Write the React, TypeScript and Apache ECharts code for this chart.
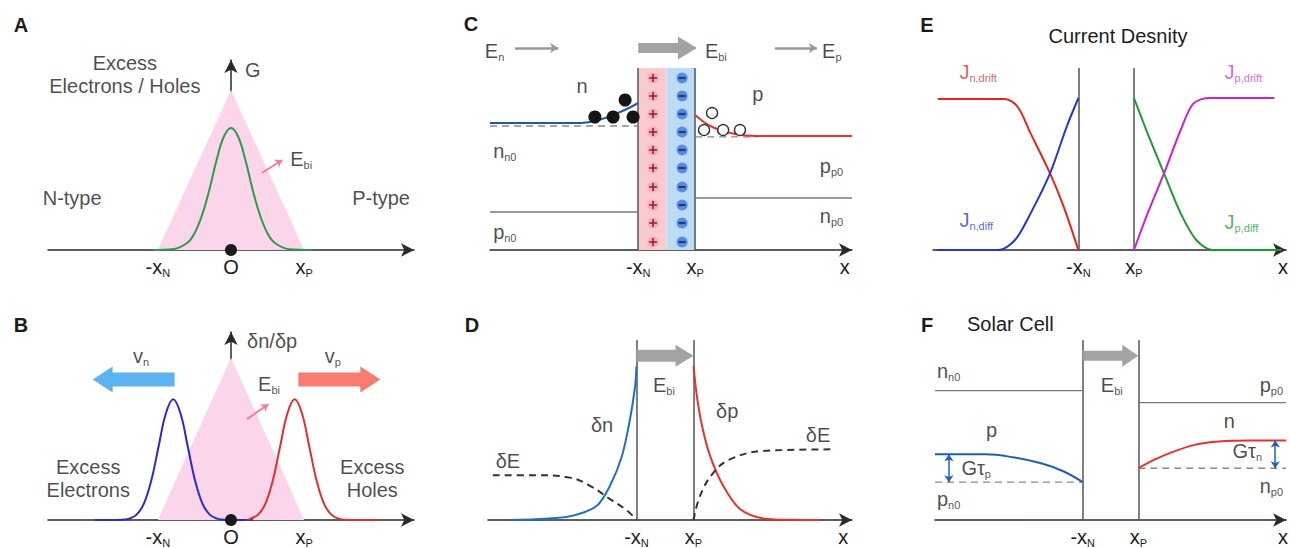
import React, { useEffect, useRef } from 'react';
import * as echarts from 'echarts';

const FONT = '"Liberation Sans", Arial, Helvetica, sans-serif';
const INK = '#1c1c1c';

// ---------------- Panel A : generation ----------------
const aTicks = [-1, 0, 1];
const aTickLabels = ['-x_{N}', 'O', 'x_{P}'];
const aTriangle = [[-1, 0], [0, 1.6], [1, 0]];
const aGeneration = [
  [-1.07, 0], [-0.8, 0.008], [-0.6, 0.07], [-0.5, 0.165], [-0.4, 0.34], [-0.3, 0.59], [-0.2, 0.89],
  [-0.1, 1.13], [0, 1.22], [0.1, 1.13], [0.2, 0.89], [0.3, 0.59], [0.4, 0.34], [0.5, 0.165],
  [0.6, 0.07], [0.8, 0.008], [1.1, 0],
];
const aOrigin = [[0, 0]];
const aFieldArrow = [[[0.42, 0.77], [0.7, 0.9]]];
const aLabels: any[] = [
  [-1.45, 1.76, 'Excess\nElectrons / Holes', 'center'],
  [0.19, 1.8, 'G', 'left'],
  [0.81, 0.91, 'E_{bi}', 'left'],
  [-2.17, 0.52, 'N-type', 'center'],
  [2.05, 0.52, 'P-type', 'center'],
];

// ---------------- Panel B : separation ----------------
const bTicks = [-1, 0, 1];
const bTickLabels = ['-x_{N}', 'O', 'x_{P}'];
const bTriangle = [[-1, 0], [0, 1.64], [1, 0]];
const bElectrons = [
  [-1.86, 0], [-1.49, 0.003], [-1.39, 0.014], [-1.29, 0.054], [-1.19, 0.165], [-1.09, 0.396],
  [-0.99, 0.74], [-0.89, 1.076], [-0.79, 1.22], [-0.69, 1.076], [-0.59, 0.74], [-0.49, 0.396],
  [-0.39, 0.165], [-0.29, 0.054], [-0.19, 0.014], [-0.09, 0.003], [0.3, 0],
];
const bHoles = [
  [0.22, 0], [0.27, 0.014], [0.37, 0.054], [0.47, 0.165], [0.57, 0.396], [0.67, 0.74], [0.77, 1.076],
  [0.87, 1.22], [0.97, 1.076], [1.07, 0.74], [1.17, 0.396], [1.27, 0.165], [1.37, 0.054],
  [1.47, 0.014], [1.57, 0.003], [2.0, 0],
];
const bOrigin = [[0, 0]];
const bElectronDrift = [[-0.77, -1.89, 1.42]];
const bHoleDrift = [[0.92, 2.04, 1.42]];
const bFieldArrow = [[[0.22, 1.02], [0.51, 1.17]]];
const bLabels: any[] = [
  [-1.34, 1.66, 'v_{n}', 'left'],
  [1.28, 1.66, 'v_{p}', 'left'],
  [0.22, 1.81, 'δn/δp', 'left'],
  [0.37, 1.37, 'E_{bi}', 'left'],
  [-1.95, 0.415, 'Excess\nElectrons', 'center'],
  [1.93, 0.415, 'Excess\nHoles', 'center'],
];

// ---------------- Panel C : junction ----------------
const cTicks = [-1, 1, 6.25];
const cTickLabels = ['-x_{N}', 'x_{P}', 'x'];
const cDonorRegion = [[-1, 0, 0, 9.1]];
const cAcceptorRegion = [[0, 1, 0, 9.1]];
const cEdges = [[[-1, 0], [-1, 9.1]], [[1, 0], [1, 9.1]]];
const cIonRows = [8.6, 7.7, 6.8, 5.9, 5.0, 4.1, 3.15, 2.25, 1.35, 0.4];
const cDonorX = -0.48;
const cAcceptorX = 0.54;
const cElectronDensity = [[-6.2, 6.35], [-3.0, 6.35], [-2.6, 6.42], [-2.2, 6.58], [-1.8, 6.8], [-1.4, 7.05], [-1, 7.35]];
const cElectronEq = [[-6.2, 6.2], [-1, 6.2]];
const cHoleDensity = [[1, 6.75], [1.3, 6.4], [1.6, 6.15], [2.0, 5.93], [2.4, 5.8], [2.8, 5.73], [3.5, 5.7], [6.5, 5.7]];
const cHoleEq = [[1, 5.66], [3.2, 5.66]];
const cMinorityN = [[-6.2, 1.9], [-1, 1.9]];
const cMinorityP = [[1, 2.6], [6.5, 2.6]];
const cElectrons = [[-2.52, 6.65], [-1.88, 6.65], [-1.46, 7.5], [-1.18, 6.65]];
const cHoles = [[1.31, 6.0], [1.59, 6.85], [1.98, 6.0], [2.57, 6.0]];
const cBuiltInField = [[-1, 1.06, 10.1]];
const cThinFields = [[[-5.32, 10.1], [-3.81, 10.1]], [[3.8, 10.1], [5.27, 10.1]]];
const cLabels: any[] = [
  [-6.38, 9.95, 'E_{n}', 'left'],
  [1.34, 9.95, 'E_{bi}', 'left'],
  [5.45, 9.95, 'E_{p}', 'left'],
  [-2.97, 8.2, 'n', 'center'],
  [3.2, 7.8, 'p', 'center'],
  [-6.09, 4.95, 'n_{n0}', 'left'],
  [6.19, 4.22, 'p_{p0}', 'right'],
  [6.19, 1.68, 'n_{p0}', 'right'],
  [-6.09, 0.88, 'p_{n0}', 'left'],
];

// ---------------- Panel D : excess carriers ----------------
const dTicks = [-1, 1, 6.25];
const dTickLabels = ['-x_{N}', 'x_{P}', 'x'];
const dEdges = [[[-1, 0], [-1, 9.05]], [[1, 0], [1, 9.05]]];
const dBuiltInField = [[-1, 1, 8.25]];
const dElectrons = [[-5.44, 0], [-4.2, 0.06], [-3.23, 0.22], [-2.39, 0.72], [-1.93, 1.72], [-1.51, 3.22], [-1.23, 5.05], [-1.05, 6.72], [-1, 7.72]];
const dHoles = [[1, 7.72], [1.12, 6.2], [1.3, 4.72], [1.58, 3.22], [2.04, 1.72], [2.63, 0.55], [3.44, 0.08], [4.4, 0.01], [5.44, 0]];
const dFieldLeft = [[-6.04, 2.25], [-4.5, 2.25], [-3.33, 2.13], [-2.63, 1.72], [-1.93, 1.05], [-1.33, 0.47], [-1, 0]];
const dFieldRight = [[1, 0], [1.23, 1.22], [1.7, 2.38], [2.28, 3.05], [3.45, 3.47], [5.85, 3.55]];
const dLabels: any[] = [
  [-0.42, 6.8, 'E_{bi}', 'left'],
  [2.18, 5.5, 'δp', 'center'],
  [-2.21, 4.75, 'δn', 'center'],
  [-5.51, 2.98, 'δE', 'center'],
  [5.37, 4.25, 'δE', 'center'],
];

// ---------------- Panel E : current density ----------------
const eTicks = [-1, 1, 6.36];
const eTickLabels = ['-x_{N}', 'x_{P}', 'x'];
const eEdges = [[[-1, 0], [-1, 9.1]], [[1, 0], [1, 9.1]]];
const eJnDrift = [[-6.06, 7.55], [-3.64, 7.55], [-3.18, 7.15], [-2.72, 5.83], [-2.02, 3.83], [-1.53, 2.17], [-1, 0]];
const eJnDiff = [[-6.09, 0], [-3.88, 0], [-3.28, 0.5], [-2.72, 1.83], [-2.02, 3.83], [-1.42, 6.17], [-1, 7.6]];
const eJpDiff = [[1, 7.6], [1.49, 5.83], [2.08, 3.83], [2.68, 1.83], [3.24, 0.5], [3.84, 0], [6.3, 0]];
const eJpDrift = [[1, 0], [1.49, 1.83], [2.08, 3.83], [2.68, 6.0], [3.14, 7.33], [3.73, 7.6], [6.05, 7.6]];
const eLabels: any[] = [
  [-5.28, 8.9, 'J_{n,drift}', 'left', '#e0313a'],
  [4.26, 8.9, 'J_{p,drift}', 'left', '#cc3fcc'],
  [-5.28, 1.5, 'J_{n,diff}', 'left', '#3040cc'],
  [4.26, 1.4, 'J_{p,diff}', 'left', '#23a043'],
];

// ---------------- Panel F : solar cell ----------------
const fTicks = [-1, 1, 6.21];
const fTickLabels = ['-x_{N}', 'x_{P}', 'x'];
const fEdges = [[[-1, 0], [-1, 9.05]], [[1, 0], [1, 9.05]]];
const fBuiltInField = [[-1, 1, 8.25]];
const fMajorityN = [[-6.32, 6.5], [-1, 6.5]];
const fMajorityP = [[1, 5.9], [6.32, 5.9]];
const fHoles = [[-6.32, 3.3], [-4.5, 3.3], [-3.5, 3.15], [-2.5, 2.85], [-1.7, 2.45], [-1, 1.9]];
const fHolesEq = [[-6.32, 1.9], [-1, 1.9]];
const fElectrons = [[1, 2.6], [1.6, 3.05], [2.3, 3.45], [3.1, 3.8], [3.9, 3.95], [5.0, 4.0], [6.32, 4.0]];
const fElectronsEq = [[1, 2.6], [6.32, 2.6]];
const fGenArrows = [[[-5.82, 3.3], [-5.82, 1.9]], [[5.93, 4.0], [5.93, 2.6]]];
const fLabels: any[] = [
  [-6.25, 7.5, 'n_{n0}', 'left'],
  [-0.35, 6.8, 'E_{bi}', 'left'],
  [5.37, 6.8, 'p_{p0}', 'left'],
  [4.28, 4.95, 'n', 'center'],
  [-4.28, 4.5, 'p', 'center'],
  [-5.37, 2.6, 'Gτ_{p}', 'left'],
  [4.39, 3.45, 'Gτ_{n}', 'left'],
  [5.37, 1.7, 'n_{p0}', 'left'],
  [-6.25, 1.05, 'p_{n0}', 'left'],
];

const panelLetters: any[] = [
  ['A', 21, 25], ['B', 21, 325], ['C', 471, 24], ['D', 472, 325], ['E', 927, 25], ['F', 927, 325],
];

// ---------------- helpers ----------------
const RICH = {
  m: { fontSize: 20, lineHeight: 23, fontFamily: FONT },
  s: { fontSize: 11, lineHeight: 13, fontFamily: FONT, verticalAlign: 'bottom' },
};

function rich(s: string): string {
  return s
    .split('\n')
    .map((line) => {
      const out: string[] = [];
      const re = /_\{([^}]*)\}/g;
      let last = 0;
      let m: RegExpExecArray | null;
      while ((m = re.exec(line))) {
        if (m.index > last) out.push(`{m|${line.slice(last, m.index)}}`);
        out.push(`{s|${m[1]}}`);
        last = re.lastIndex;
      }
      if (last < line.length) out.push(`{m|${line.slice(last)}}`);
      return out.join('');
    })
    .join('\n');
}

const AXIS_COLOR = '#2a2a2a';

function xAxis(gi: number, min: number, max: number, ticks: number[], labels: string[]) {
  return {
    type: 'value', gridIndex: gi, min, max,
    axisLine: { show: true, onZero: false, symbol: ['none', 'arrow'], symbolSize: [10, 13], lineStyle: { color: AXIS_COLOR, width: 1.5 } },
    axisTick: { show: false },
    splitLine: { show: false },
    axisLabel: {
      show: true, customValues: ticks, margin: 5, color: INK, fontFamily: FONT, fontSize: 20,
      formatter: (v: number) => {
        const i = ticks.findIndex((t) => Math.abs(t - v) < 1e-9);
        return i < 0 ? '' : rich(labels[i]);
      },
      rich: RICH,
    },
  };
}
function yAxisArrow(gi: number, max: number) {
  return {
    type: 'value', gridIndex: gi, min: 0, max,
    axisLine: { show: true, onZero: true, symbol: ['none', 'arrow'], symbolSize: [10, 13], lineStyle: { color: AXIS_COLOR, width: 1.5 } },
    axisTick: { show: false }, axisLabel: { show: false }, splitLine: { show: false },
  };
}
function yAxisHidden(gi: number, max: number) {
  return { type: 'value', gridIndex: gi, min: 0, max, show: false, splitLine: { show: false } };
}

function curve(gi: number, data: number[][], color: string, opts: any = {}) {
  return {
    type: 'line', xAxisIndex: gi, yAxisIndex: gi, data, symbol: 'none', showSymbol: false, silent: true,
    smooth: opts.smooth ?? 0.3, z: opts.z ?? 3,
    lineStyle: { color, width: opts.width ?? 2, type: opts.dash ? [7, 5] : 'solid' },
  };
}
function area(gi: number, data: number[][], color: string) {
  return {
    type: 'line', xAxisIndex: gi, yAxisIndex: gi, data, symbol: 'none', showSymbol: false, silent: true, z: 1,
    lineStyle: { width: 0, opacity: 0 }, areaStyle: { color, opacity: 1 },
  };
}
function segments(gi: number, segs: number[][][], color: string, width = 1.5, dash = false) {
  return {
    type: 'lines', coordinateSystem: 'cartesian2d', xAxisIndex: gi, yAxisIndex: gi, silent: true, z: 2,
    symbol: ['none', 'none'],
    lineStyle: { color, width, opacity: 1, curveness: 0, type: dash ? [7, 5] : 'solid' },
    data: segs.map((c) => ({ coords: c })),
  };
}
function arrows(gi: number, segs: number[][][], color: string, width: number, size: number, both = false) {
  return {
    type: 'lines', coordinateSystem: 'cartesian2d', xAxisIndex: gi, yAxisIndex: gi, silent: true, z: 6,
    symbol: both ? ['arrow', 'arrow'] : ['none', 'arrow'], symbolSize: size,
    lineStyle: { color, width, opacity: 1, curveness: 0 },
    data: segs.map((c) => ({ coords: c })),
  };
}
function fatArrow(gi: number, data: number[][], color: string, shaft: number, head: number, headLen: number) {
  return {
    type: 'custom', xAxisIndex: gi, yAxisIndex: gi, silent: true, z: 5, data, encode: { x: [0, 1], y: 2 },
    renderItem: (_p: any, api: any) => {
      const a = api.coord([api.value(0), api.value(2)]);
      const b = api.coord([api.value(1), api.value(2)]);
      const d = b[0] > a[0] ? 1 : -1;
      const hx = b[0] - d * headLen;
      const y = a[1];
      return {
        type: 'polygon',
        shape: { points: [[a[0], y - shaft / 2], [hx, y - shaft / 2], [hx, y - head / 2], [b[0], y], [hx, y + head / 2], [hx, y + shaft / 2], [a[0], y + shaft / 2]] },
        style: { fill: color },
      };
    },
  };
}
function band(gi: number, data: number[][], color: string) {
  return {
    type: 'custom', xAxisIndex: gi, yAxisIndex: gi, silent: true, z: 1, data, encode: { x: [0, 1], y: [2, 3] },
    renderItem: (_p: any, api: any) => {
      const a = api.coord([api.value(0), api.value(3)]);
      const b = api.coord([api.value(1), api.value(2)]);
      return { type: 'rect', shape: { x: a[0], y: a[1], width: b[0] - a[0], height: b[1] - a[1] }, style: { fill: color } };
    },
  };
}
function dots(gi: number, data: number[][], opts: any) {
  return {
    type: 'scatter', xAxisIndex: gi, yAxisIndex: gi, data, silent: true, z: opts.z ?? 4,
    symbol: opts.symbol ?? 'circle', symbolSize: opts.size,
    itemStyle: { color: opts.color, borderColor: opts.border ?? undefined, borderWidth: opts.borderWidth ?? 0, opacity: 1 },
  };
}
function labels(gi: number, items: any[]) {
  return {
    type: 'scatter', xAxisIndex: gi, yAxisIndex: gi, silent: true, clip: false, z: 10, symbolSize: 0,
    label: {
      show: true, position: 'inside', verticalAlign: 'middle', color: INK, fontFamily: FONT, fontSize: 20,
      formatter: (p: any) => rich(p.name), rich: RICH,
    },
    data: items.map(([x, y, t, align, color]) => ({
      name: t, value: [x, y], label: { align: align || 'center', color: color || INK },
    })),
  };
}

const PINK = '#fbd5ea';
const GRAY_ARROW = '#a3a3a3';
const EDGE = '#555555';
const THIN = '#7a7a7a';
const DASH = '#8a8a8a';

function buildOption() {
  const plusRows = cIonRows.map((y) => [cDonorX, y]);
  const minusRows = cIonRows.map((y) => [cAcceptorX, y]);
  return {
    animation: false,
    backgroundColor: '#ffffff',
    textStyle: { fontFamily: FONT },
    grid: [
      { left: 48, top: 60, width: 366, height: 190 },
      { left: 48, top: 332, width: 366, height: 190 },
      { left: 490, top: 40, width: 362, height: 210 },
      { left: 488, top: 321, width: 364, height: 200 },
      { left: 933, top: 50, width: 362, height: 200 },
      { left: 935, top: 321, width: 360, height: 200 },
    ],
    xAxis: [
      xAxis(0, -2.5, 2.5, aTicks, aTickLabels),
      xAxis(1, -2.5, 2.5, bTicks, bTickLabels),
      xAxis(2, -6.2, 6.5, cTicks, cTickLabels),
      xAxis(3, -6.21, 6.56, dTicks, dTickLabels),
      xAxis(4, -6.23, 6.47, eTicks, eTickLabels),
      xAxis(5, -6.32, 6.32, fTicks, fTickLabels),
    ],
    yAxis: [
      yAxisArrow(0, 1.9),
      yAxisArrow(1, 1.9),
      yAxisHidden(2, 10.5),
      yAxisHidden(3, 10),
      yAxisHidden(4, 10),
      yAxisHidden(5, 10),
    ],
    graphic: [
      ...panelLetters.map(([t, x, y]) => ({
        type: 'text', x, y, silent: true,
        style: { text: t, fontSize: 20, fontWeight: 'bold', fontFamily: FONT, fill: INK, align: 'center', verticalAlign: 'middle' },
      })),
      { type: 'text', x: 1118, y: 36, silent: true, style: { text: 'Current Desnity', fontSize: 20, fontFamily: FONT, fill: INK, align: 'center', verticalAlign: 'middle' } },
      { type: 'text', x: 967, y: 324, silent: true, style: { text: 'Solar Cell', fontSize: 20, fontFamily: FONT, fill: INK, align: 'left', verticalAlign: 'middle' } },
    ],
    series: [
      // A
      area(0, aTriangle, PINK),
      curve(0, aGeneration, '#2f9a47', { smooth: 0.4 }),
      dots(0, aOrigin, { size: 12, color: '#1a1a1a', z: 7 }),
      arrows(0, aFieldArrow, '#f07c9c', 2, 7),
      labels(0, aLabels),
      // B
      area(1, bTriangle, PINK),
      curve(1, bElectrons, '#2a2ad0', { smooth: 0.4 }),
      curve(1, bHoles, '#e0302e', { smooth: 0.4 }),
      dots(1, bOrigin, { size: 12, color: '#1a1a1a', z: 7 }),
      fatArrow(1, bElectronDrift, '#5cb3ef', 14, 26, 20),
      fatArrow(1, bHoleDrift, '#f77b6e', 14, 26, 20),
      arrows(1, bFieldArrow, '#f07c9c', 2, 7),
      labels(1, bLabels),
      // C
      band(2, cDonorRegion, '#f9cace'),
      band(2, cAcceptorRegion, '#bcdcf6'),
      segments(2, cEdges, EDGE, 1.5),
      dots(2, plusRows, { size: 11, color: '#f3aebb', z: 4 }),
      dots(2, plusRows, { size: 8, color: '#9b1b3b', symbol: 'path://M4,0H6V4H10V6H6V10H4V6H0V4H4Z', z: 5 }),
      dots(2, minusRows, { size: 11, color: '#5a8de0', z: 4 }),
      dots(2, minusRows, { size: [7, 2.2], color: '#1a3a8a', symbol: 'path://M0,0H10V2H0Z', z: 5 }),
      curve(2, cElectronEq, DASH, { dash: true, smooth: false, width: 1.3, z: 2 }),
      curve(2, cHoleEq, DASH, { dash: true, smooth: false, width: 1.3, z: 2 }),
      curve(2, cElectronDensity, '#2058a8', { smooth: 0.3 }),
      curve(2, cHoleDensity, '#e8312a', { smooth: 0.4 }),
      curve(2, cMinorityN, THIN, { smooth: false, width: 1.3 }),
      curve(2, cMinorityP, THIN, { smooth: false, width: 1.3 }),
      dots(2, cElectrons, { size: 13, color: '#151515', z: 6 }),
      dots(2, cHoles, { size: 11, color: '#ffffff', border: '#333333', borderWidth: 1.4, z: 6 }),
      fatArrow(2, cBuiltInField, GRAY_ARROW, 10, 23, 19),
      arrows(2, cThinFields, '#9a9a9a', 2.5, 8),
      labels(2, cLabels),
      // D
      segments(3, dEdges, EDGE, 1.5),
      fatArrow(3, dBuiltInField, GRAY_ARROW, 12, 22, 18),
      curve(3, dElectrons, '#1e6fc4', { smooth: 0.3 }),
      curve(3, dHoles, '#e8312a', { smooth: 0.3 }),
      curve(3, dFieldLeft, '#333333', { dash: true, smooth: 0.4 }),
      curve(3, dFieldRight, '#333333', { dash: true, smooth: 0.4 }),
      labels(3, dLabels),
      // E
      segments(4, eEdges, EDGE, 1.5),
      curve(4, eJnDrift, '#e8241f', { smooth: 0.3 }),
      curve(4, eJnDiff, '#2636d0', { smooth: 0.3 }),
      curve(4, eJpDiff, '#1e9a33', { smooth: 0.3 }),
      curve(4, eJpDrift, '#cc22cc', { smooth: 0.3 }),
      labels(4, eLabels),
      // F
      segments(5, fEdges, EDGE, 1.5),
      fatArrow(5, fBuiltInField, GRAY_ARROW, 10, 22, 16),
      curve(5, fMajorityN, THIN, { smooth: false, width: 1.3 }),
      curve(5, fMajorityP, THIN, { smooth: false, width: 1.3 }),
      curve(5, fHolesEq, DASH, { dash: true, smooth: false, width: 1.3, z: 2 }),
      curve(5, fElectronsEq, DASH, { dash: true, smooth: false, width: 1.3, z: 2 }),
      curve(5, fHoles, '#1f5fb5', { smooth: 0.4 }),
      curve(5, fElectrons, '#e8312a', { smooth: 0.4 }),
      arrows(5, fGenArrows, '#1f5fb5', 1.5, 7, true),
      labels(5, fLabels),
    ],
  };
}

export default function App() {
  const ref = useRef<HTMLDivElement>(null);
  useEffect(() => {
    if (!ref.current) return;
    const chart = echarts.init(ref.current, null, { renderer: 'svg' });
    chart.setOption(buildOption() as any);
    return () => chart.dispose();
  }, []);
  return <div ref={ref} style={{ position: 'absolute', left: 0, top: 0, width: 1291, height: 548 }} />;
}
